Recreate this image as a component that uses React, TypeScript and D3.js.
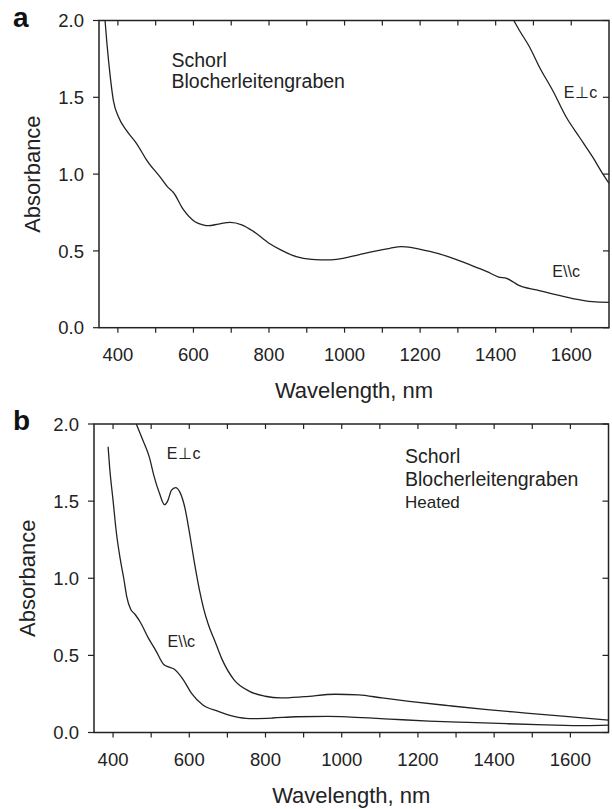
import React from "react";
import * as d3 from "d3";

// Panel a: Schorl Blocherleitengraben
const aParNm = [366, 371, 380, 388, 402, 424, 450, 477, 512, 532, 547, 573, 604, 625, 640, 666, 697, 728, 759, 800, 831, 872, 913, 955, 996, 1037, 1078, 1120, 1150, 1181, 1223, 1274, 1326, 1377, 1408, 1429, 1445, 1460, 1511, 1553, 1604, 1656, 1700];
const aParAbs = [2.0, 1.85, 1.63, 1.48, 1.37, 1.28, 1.197, 1.088, 0.98, 0.915, 0.88, 0.77, 0.69, 0.67, 0.664, 0.675, 0.686, 0.67, 0.627, 0.55, 0.507, 0.463, 0.445, 0.441, 0.452, 0.474, 0.497, 0.517, 0.528, 0.52, 0.498, 0.463, 0.415, 0.365, 0.33, 0.321, 0.3, 0.277, 0.245, 0.218, 0.19, 0.17, 0.165];
const aPerpNm = [1448, 1463, 1490, 1516, 1551, 1587, 1622, 1657, 1684, 1700];
const aPerpAbs = [2.0, 1.935, 1.826, 1.696, 1.544, 1.37, 1.24, 1.11, 1.0, 0.94];

// Panel b: heated
const bParNm = [387, 391, 400, 409, 418, 428, 436, 446, 458, 472, 492, 513, 533, 545, 559, 584, 605, 635, 676, 717, 758, 819, 881, 963, 1024, 1126, 1229, 1331, 1433, 1535, 1638, 1700];
const bParAbs = [1.853, 1.72, 1.505, 1.29, 1.137, 1.0, 0.88, 0.8, 0.765, 0.713, 0.615, 0.528, 0.441, 0.426, 0.413, 0.343, 0.257, 0.18, 0.137, 0.104, 0.09, 0.094, 0.102, 0.104, 0.1, 0.087, 0.074, 0.065, 0.057, 0.05, 0.045, 0.048];
const bPerpNm = [461, 478, 495, 508, 522, 535, 544, 553, 564, 575, 588, 601, 614, 627, 638, 650, 666, 686, 717, 758, 799, 840, 901, 983, 1044, 1106, 1177, 1280, 1382, 1484, 1587, 1700];
const bPerpAbs = [2.0, 1.896, 1.787, 1.657, 1.549, 1.477, 1.505, 1.57, 1.588, 1.56, 1.462, 1.288, 1.093, 0.92, 0.8, 0.7, 0.6, 0.474, 0.343, 0.267, 0.235, 0.224, 0.232, 0.248, 0.244, 0.224, 0.202, 0.174, 0.148, 0.126, 0.104, 0.08];

const xDomain: [number, number] = [350, 1700];
const yDomain: [number, number] = [0, 2];
const xLabelTicks = [400, 600, 800, 1000, 1200, 1400, 1600];
const xMinorTicks = [400, 500, 600, 700, 800, 900, 1000, 1100, 1200, 1300, 1400, 1500, 1600];
const yTicks = [0, 0.5, 1.0, 1.5, 2.0];

const FONT = "Arial, 'Liberation Sans', Helvetica, sans-serif";
const INK = "#222";

type PanelProps = {
  id: string;
  letter: string;
  left: number;
  right: number;
  top: number;
  bottom: number;
  series: { nm: number[]; abs: number[] }[];
  children?: (x: d3.ScaleLinear<number, number>, y: d3.ScaleLinear<number, number>) => React.ReactNode;
};

function Panel({ id, letter, left, right, top, bottom, series, children }: PanelProps) {
  const x = d3.scaleLinear().domain(xDomain).range([left, right]);
  const y = d3.scaleLinear().domain(yDomain).range([bottom, top]);
  const line = d3
    .line<[number, number]>()
    .x((d) => x(d[0]))
    .y((d) => y(d[1]))
    .curve(d3.curveMonotoneX);
  return (
    <g>
      <defs>
        <clipPath id={id}>
          <rect x={left} y={top} width={right - left} height={bottom - top} />
        </clipPath>
      </defs>
      <g clipPath={`url(#${id})`}>
        {series.map((s, i) => (
          <path
            key={i}
            d={line(s.nm.map((n, j) => [n, s.abs[j]] as [number, number])) || ""}
            fill="none"
            stroke={INK}
            strokeWidth={1.3}
          />
        ))}
      </g>
      <rect x={left} y={top} width={right - left} height={bottom - top} fill="none" stroke={INK} strokeWidth={1.5} />
      {xMinorTicks.map((t) => (
        <g key={"xt" + t}>
          <line x1={x(t)} x2={x(t)} y1={bottom} y2={bottom + 5} stroke={INK} strokeWidth={1.2} />
          <line x1={x(t)} x2={x(t)} y1={top} y2={top + 5} stroke={INK} strokeWidth={1.2} />
        </g>
      ))}
      {xLabelTicks.map((t) => (
        <text key={"xl" + t} x={x(t)} y={bottom + 33} textAnchor="middle" fontFamily={FONT} fontSize={18.5} fill={INK}>
          {t}
        </text>
      ))}
      {yTicks.map((t) => (
        <g key={"yt" + t}>
          <line x1={left - 6} x2={left} y1={y(t)} y2={y(t)} stroke={INK} strokeWidth={1.2} />
          <line x1={right - 6} x2={right} y1={y(t)} y2={y(t)} stroke={INK} strokeWidth={1.2} />
          <text x={left - 15} y={y(t)} dy="0.36em" textAnchor="end" fontFamily={FONT} fontSize={18.5} fill={INK}>
            {t.toFixed(1)}
          </text>
        </g>
      ))}
      <text
        x={(left + right) / 2}
        y={bottom + 70}
        textAnchor="middle"
        fontFamily={FONT}
        fontSize={22}
        fill={INK}
      >
        Wavelength, nm
      </text>
      <text
        transform={`translate(${left - 59},${(top + bottom) / 2}) rotate(-90)`}
        textAnchor="middle"
        fontFamily={FONT}
        fontSize={22}
        fill={INK}
      >
        Absorbance
      </text>
      <text x={13} y={top + 6} fontFamily={FONT} fontWeight="bold" fontSize={28} fill="#111">
        {letter}
      </text>
      {children && children(x, y)}
    </g>
  );
}

export default function App() {
  return (
    <svg
      width={612}
      height={809}
      viewBox="0 0 612 809"
      style={{ position: "absolute", left: 0, top: 0, background: "#fff" }}
    >
      <rect width={612} height={809} fill="#fff" />
      <Panel
        id="clipA"
        letter="a"
        left={99}
        right={609}
        top={20.5}
        bottom={327.7}
        series={[
          { nm: aParNm, abs: aParAbs },
          { nm: aPerpNm, abs: aPerpAbs },
        ]}
      >
        {(x, y) => (
          <g fontFamily={FONT} fill={INK}>
            <text x={171.5} y={66.5} fontSize={19.5}>Schorl</text>
            <text x={171.5} y={88} fontSize={19.5}>Blocherleitengraben</text>
            <text x={x(1580)} y={y(1.53)} dy="0.36em" fontSize={16} letterSpacing={0.5}>E⊥c</text>
            <text x={x(1550)} y={y(0.365)} dy="0.36em" fontSize={16}>E\\c</text>
          </g>
        )}
      </Panel>
      <Panel
        id="clipB"
        letter="b"
        left={94}
        right={608.5}
        top={424}
        bottom={732.5}
        series={[
          { nm: bParNm, abs: bParAbs },
          { nm: bPerpNm, abs: bPerpAbs },
        ]}
      >
        {(x, y) => (
          <g fontFamily={FONT} fill={INK}>
            <text x={405} y={463} fontSize={19.5}>Schorl</text>
            <text x={405} y={486} fontSize={19.5}>Blocherleitengraben</text>
            <text x={405} y={508} fontSize={17}>Heated</text>
            <text x={x(541)} y={y(1.81)} dy="0.36em" fontSize={16} letterSpacing={0.5}>E⊥c</text>
            <text x={x(543)} y={y(0.59)} dy="0.36em" fontSize={16}>E\\c</text>
          </g>
        )}
      </Panel>
    </svg>
  );
}
